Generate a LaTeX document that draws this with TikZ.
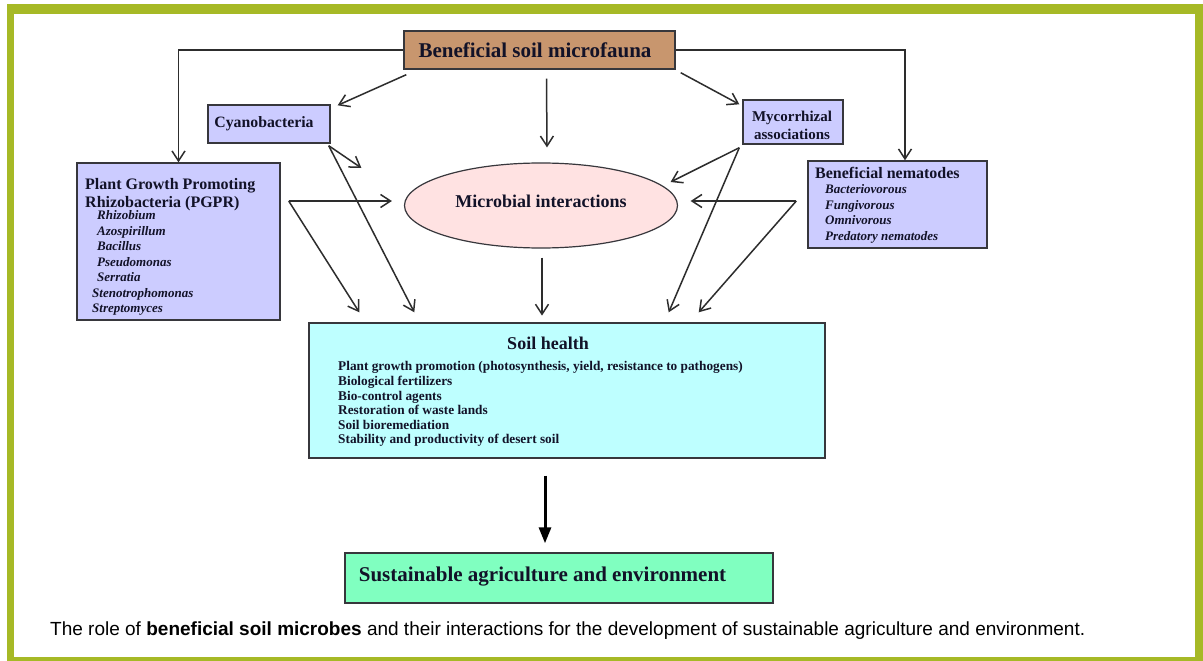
\documentclass[tikz,border=0pt]{standalone}
\usepackage{fontspec}
\setmainfont{Liberation Serif}
\newfontfamily\capfont{Liberation Sans}
\usetikzlibrary{arrows.meta,shapes.geometric,calc}
\definecolor{frameg}{RGB}{166,185,38}
\definecolor{tanc}{RGB}{200,150,110}
\definecolor{lavc}{RGB}{204,204,255}
\definecolor{pinkc}{RGB}{255,226,226}
\definecolor{cyanc}{RGB}{190,255,255}
\definecolor{mintc}{RGB}{128,255,192}
\definecolor{bordc}{RGB}{55,55,60}
\definecolor{arrc}{RGB}{45,45,45}
\definecolor{txtc}{RGB}{18,18,40}
\begin{document}
\begin{tikzpicture}[x=1pt,y=-1pt,
  box/.style={draw=bordc, line width=1.4pt, inner sep=0pt},
  arr/.style={draw=arrc, line width=1.5pt, -{Straight Barb[length=10pt,width=13pt]}},
  thickarr/.style={draw=black, line width=3pt, -{Triangle[length=16pt,width=12pt]}},
  txt/.style={text=txtc, inner sep=0pt, font=\bfseries},
  itl/.style={text=txtc, inner sep=0pt, font=\bfseries\itshape\fontsize{13}{15.5}\selectfont, align=left, anchor=north west}
]
\useasboundingbox (0,0) rectangle (1203,661);
\fill[white] (0,0) rectangle (1203,661);
\fill[frameg] (7,4) rectangle (1203,661);
\fill[white] (14,14) rectangle (1195,657);

% boxes
\node[box, fill=tanc, minimum width=271pt, minimum height=38pt] (micro) at (539.5,50) {};
\node[txt, font=\bfseries\fontsize{21}{24}\selectfont] (microt) at (535,50) {Beneficial soil microfauna};

\node[box, fill=lavc, minimum width=122pt, minimum height=38pt] (cyano) at (269,124) {};
\node[txt, font=\bfseries\fontsize{15.8}{18}\selectfont] (cyanot) at (264,124) {Cyanobacteria};

\node[box, fill=lavc, minimum width=100pt, minimum height=44pt] (myco) at (793,122) {};
\node[txt, font=\bfseries\fontsize{15}{18}\selectfont, align=center] (mycot) at (792,125) {Mycorrhizal\\associations};

\node[box, fill=lavc, minimum width=179pt, minimum height=87pt] (nem) at (897.5,204.5) {};
\node[txt, font=\bfseries\fontsize{16}{18}\selectfont, anchor=north west] (nemt) at (815,167.5) {Beneficial nematodes};
\node[itl] (neml) at (825,184.5) {Bacteriovorous\\Fungivorous\\Omnivorous\\Predatory nematodes};

\node[box, fill=lavc, minimum width=203pt, minimum height=157pt] (pgpr) at (178.5,241.5) {};
\node[txt, font=\bfseries\fontsize{16}{18}\selectfont, anchor=north west, align=left] (pgprt) at (85,178.5) {Plant Growth Promoting\\Rhizobacteria (PGPR)};
\node[itl] (pgprl) at (92,210.5) {\hspace*{5pt}Rhizobium\\\hspace*{5pt}Azospirillum\\\hspace*{5pt}Bacillus\\\hspace*{5pt}Pseudomonas\\\hspace*{5pt}Serratia\\Stenotrophomonas\\Streptomyces};

\node[draw=bordc, line width=1.2pt, fill=pinkc, ellipse, minimum width=273pt, minimum height=85pt, inner sep=0pt] (inter) at (541,205.5) {};
\node[txt, font=\bfseries\fontsize{18}{21}\selectfont] (intert) at (541,201) {Microbial interactions};

\node[box, fill=cyanc, minimum width=516pt, minimum height=135pt] (soil) at (567,390.5) {};
\node[txt, font=\bfseries\fontsize{18}{21}\selectfont] (soilt) at (548,343) {Soil health};
\node[txt, font=\bfseries\fontsize{13.3}{14.6}\selectfont, align=left, anchor=north west] (soill) at (338,361.5) {Plant growth promotion (photosynthesis, yield, resistance to pathogens)\\Biological fertilizers\\Bio-control agents\\Restoration of waste lands\\Soil bioremediation\\Stability and productivity of desert soil};

\node[box, fill=mintc, minimum width=428pt, minimum height=50pt] (sust) at (559,578) {};
\node[txt, font=\bfseries\fontsize{21}{24}\selectfont] (sustt) at (542.5,577) {Sustainable agriculture and environment};

\node[text=black, inner sep=0pt, anchor=base west, font=\capfont\fontsize{19}{22}\selectfont] (cap) at (50,635) {The role of \textbf{beneficial soil microbes} and their interactions for the development of sustainable agriculture and environment.};

% junctions
\coordinate (pj) at ($(pgpr.east)+(8,-40.5)$);
\coordinate (mj) at ($(myco.south west)+(-3,3)$);
\coordinate (nj) at ($(nem.west)+(-11,-3.5)$);
\coordinate (cj) at ($(cyano.south east)+(-2,2)$);

% connectors
\draw[arr] (micro.west) -| (pgpr.north);
\draw[arr] (micro.east) -| ($(nem.north)+(7.5,0)$);
\draw[arr] ($(micro.south west)+(3,5)$) -- ($(cyano.north east)+(7,1)$);
\draw[arr] ($(micro.south)+(7,9)$) -- ($(inter.north)+(6,-15)$);
\draw[arr] ($(micro.south east)+(5,3)$) -- ($(myco.north west)+(-3,5)$);
\draw[arr] (cj) -- ($(inter.west)+(-42.5,-37.5)$);
\draw[arr] (cj) -- ($(soil.north west)+(106,-10)$);
\draw[arr] (pj) -- ($(inter.west)+(-12,-4.5)$);
\draw[arr] (pj) -- ($(soil.north west)+(51,-10)$);
\draw[arr] ($(inter.south)+(1,9)$) -- ($(inter.south)+(1,67)$);
\draw[arr] (mj) -- ($(inter.east)+(-7.5,-23.5)$);
\draw[arr] (mj) -- ($(soil.north east)+(-157,-10)$);
\draw[arr] (nj) -- ($(inter.east)+(12.5,-4.5)$);
\draw[arr] (nj) -- ($(soil.north east)+(-127,-10)$);
\draw[thickarr] ($(soil.south)+(-22,17)$) -- ($(sust.north)+(-14,-9)$);
\end{tikzpicture}
\end{document}
